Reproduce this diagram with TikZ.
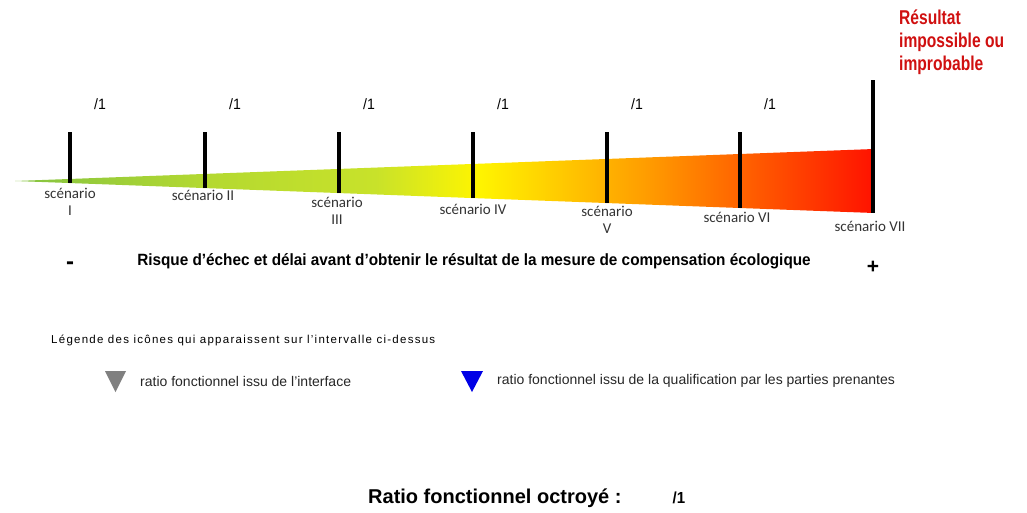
\documentclass[tikz,border=0pt]{standalone}
\usepackage{fontspec}
\setmainfont{Liberation Sans}
\newfontfamily\narrowfont[FakeStretch=0.94]{Liberation Sans}
\newfontfamily\condfont[FakeStretch=0.78]{Liberation Sans}
\newfontfamily\spacedfont[LetterSpace=11]{Liberation Sans}
\newfontfamily\scenfont{Carlito}
\usetikzlibrary{positioning}

\definecolor{riskgreen}{HTML}{84C341}
\definecolor{risklime}{HTML}{C8E22A}
\definecolor{riskyellow}{HTML}{FFF500}
\definecolor{riskorange}{HTML}{FF9A00}
\definecolor{riskred}{HTML}{FF1200}
\definecolor{alertred}{HTML}{D01010}
\definecolor{iconblue}{HTML}{0000E6}

\pgfdeclarehorizontalshading{riskshade}{100bp}{%
  color(0bp)=(riskgreen); color(25bp)=(riskgreen); color(36bp)=(risklime!70!riskgreen);
  color(46bp)=(risklime); color(52bp)=(riskyellow); color(62bp)=(riskorange);
  color(75bp)=(riskred); color(100bp)=(riskred)}

\tikzset{
  bar/.style={line width=3.6pt},
  scen/.style={font=\scenfont\fontsize{15}{17.5}\selectfont, text=black!80, align=center, inner sep=0pt},
  ratio/.style={font=\narrowfont\fontsize{15}{18}\selectfont, inner sep=0pt},
  legendtext/.style={font=\fontsize{14}{17}\selectfont, text=black!85, anchor=west, inner sep=0pt}
}

\begin{document}
\begin{tikzpicture}[x=1pt, y=-1pt]
  \useasboundingbox (0,0) rectangle (1027,512);

  % The risk wedge, thin on the left, wide on the right
  \coordinate (tip) at (15,181);
  \coordinate (topR) at (874,149);
  \coordinate (botR) at (874,213);
  \shade[shading=riskshade] (tip) -- (topR) -- (botR) -- cycle;

  % Scenario bars and their ratios
  \foreach \x/\n in {70/1, 205/2, 339/3, 473/4, 607/5, 740/6} {
    \draw[bar] (\x,132) -- (\x,{181+0.03725*(\x-15)});
    \node[ratio] (r\n) at ({\x+30},104) {/1};
  }
  \draw[bar] (873,80) -- (873,213);

  % Scenario names under the wedge
  \node[scen] (s1) at (70,202) {scénario\\I};
  \node[scen] (s2) at (203,195) {scénario II};
  \node[scen] (s3) at (337,211) {scénario\\III};
  \node[scen] (s4) at (473,209) {scénario IV};
  \node[scen] (s5) at (607,220) {scénario\\V};
  \node[scen] (s6) at (737,217) {scénario VI};
  \node[scen] (s7) at (870,226) {scénario VII};

  \node[font=\condfont\bfseries\fontsize{20}{23}\selectfont, text=alertred, align=left,
        anchor=north west, inner sep=0pt] (impossible) at (899,10)
        {Résultat\\impossible ou\\improbable};

  % Axis caption
  \node[font=\bfseries\fontsize{24}{24}\selectfont] (minus) at (70,266) {-};
  \node[font=\bfseries\fontsize{21}{21}\selectfont] (plus) at (873,267) {+};
  \node[font=\narrowfont\bfseries\fontsize{16.3}{19}\selectfont] (risk) at (474,261)
        {Risque d’échec et délai avant d’obtenir le résultat de la mesure de compensation écologique};

  % Legend of the icons
  \node[font=\spacedfont\fontsize{11.5}{14}\selectfont, anchor=west, inner sep=0pt] (legend) at (51,340)
        {Légende des icônes qui apparaissent sur l’intervalle ci-dessus};
  \fill[gray] (105,371) -- (126,371) -- (115.5,392) -- cycle;
  \node[legendtext] (grayicon) at (140,381) {ratio fonctionnel issu de l’interface};
  \fill[iconblue] (461,371) -- (483,371) -- (472,392) -- cycle;
  \node[legendtext] (blueicon) at (497,381) {ratio fonctionnel issu de la qualification par les parties prenantes};

  % Granted ratio
  \node[font=\bfseries\fontsize{20}{22}\selectfont, anchor=west, inner sep=0pt] (granted) at (368,498)
        {Ratio fonctionnel octroyé :};
  \node[ratio, font=\bfseries\narrowfont\fontsize{16}{18}\selectfont] (grantedval) at (679,498) {/1};
\end{tikzpicture}
\end{document}
